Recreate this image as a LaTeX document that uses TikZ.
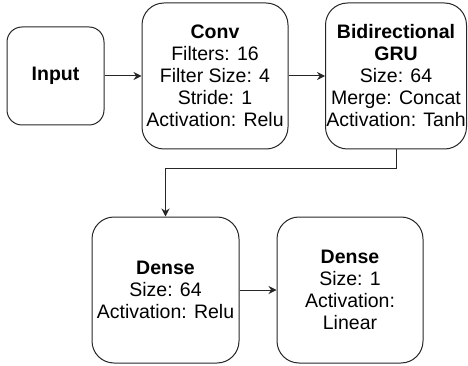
\documentclass[tikz,border=0pt]{standalone}
\usepackage{fontspec}
\setmainfont{Liberation Sans}
\usetikzlibrary{arrows.meta}
\tikzset{
	layerbox/.style={draw=black!85, line width=1pt, rounded corners=22pt, align=center, inner sep=0pt,
		minimum width=146pt, minimum height=146pt, font=\fontsize{19.5}{22}\selectfont},
	flow/.style={draw=black!85, line width=1pt, -{Stealth[length=8pt,width=8pt]}}
}

\begin{document}
\begin{tikzpicture}[x=1pt, y=-1pt]
			%%%%% START %%%%%
			
			\useasboundingbox (0, 0) rectangle (468, 366);
			
			\node[layerbox, minimum width=97pt, minimum height=98pt, rounded corners=15pt] (input) at (55.5, 76) {\textbf{Input}};
			\node[layerbox] (conv) at (215, 76) {\textbf{Conv}\\Filters: 16\\Filter Size: 4\\Stride: 1\\Activation: Relu};
			\node[layerbox, minimum width=141pt] (gru) at (396, 76) {\textbf{Bidirectional}\\\textbf{GRU}\\Size: 64\\Merge: Concat\\Activation: Tanh};
			
			\node[layerbox, minimum width=147pt] (dense1) at (165.5, 290) {\textbf{Dense}\\Size: 64\\Activation: Relu};
			\node[layerbox] (dense2) at (350, 290) {\textbf{Dense}\\Size: 1\\Activation:\\Linear};
			
			\draw[flow] (input) -- (conv);
			\draw[flow] (conv) -- (gru);
			\draw[flow] (gru.south) -- ++(0, 19) -| (dense1.north);
			\draw[flow] (dense1) -- (dense2);
			
			%%%%% END %%%%%
\end{tikzpicture}
\end{document}
